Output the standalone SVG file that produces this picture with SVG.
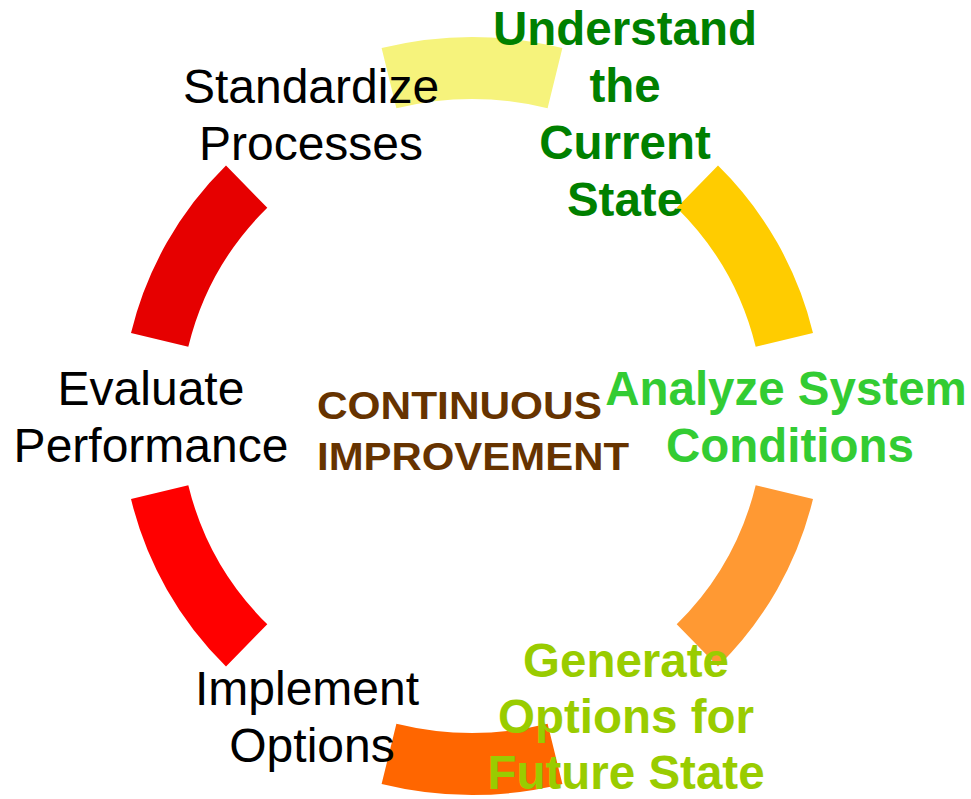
<svg xmlns="http://www.w3.org/2000/svg" width="971" height="799" viewBox="0 0 971 799">
<style>
.lbl{font-family:"Liberation Sans",Arial,sans-serif;font-size:48px;text-anchor:middle}
.blk{fill:#000}
.b{font-weight:bold;font-size:47.5px}
.g1{fill:#008000}
.g2{fill:#33CC33}
.g3{fill:#99CC00}
.ctr{font-family:"Liberation Sans",Arial,sans-serif;font-weight:bold;font-size:39px;fill:#663300}
</style>
<rect width="971" height="799" fill="#fff"/>
<g id="connectors">
<path id="arc-top" fill="#F6F37C" d="M381.6,48 A379,379 0 0 1 562.4,48 L547.6,108.2 A317,317 0 0 0 396.4,108.2 Z"/>
<path id="arc-right-upper" fill="#FFCC00" d="M718,165.6 A351,351 0 0 1 813,332.9 L755.7,346.8 A292,292 0 0 0 676.7,207.7 Z"/>
<path id="arc-right-lower" fill="#FF9933" d="M718,666.4 A351,351 0 0 0 813,499.1 L755.7,485.2 A292,292 0 0 1 676.7,624.3 Z"/>
<path id="arc-bottom" fill="#FF6600" d="M381.6,784 A379,379 0 0 0 562.4,784 L547.6,723.8 A317,317 0 0 1 396.4,723.8 Z"/>
<path id="arc-left-lower" fill="#FF0000" d="M226,666.4 A351,351 0 0 1 131,499.1 L188.3,485.2 A292,292 0 0 0 267.3,624.3 Z"/>
<path id="arc-left-upper" fill="#E60000" d="M226,165.6 A351,351 0 0 0 131,332.9 L188.3,346.8 A292,292 0 0 1 267.3,207.7 Z"/>
</g>
<g id="node-center">
<text class="ctr" x="317" y="419" textLength="285" lengthAdjust="spacingAndGlyphs">CONTINUOUS</text>
<text class="ctr" x="317" y="470" textLength="312" lengthAdjust="spacingAndGlyphs">IMPROVEMENT</text>
</g>
<g id="node-understand">
<text class="lbl b g1" x="625" y="45">Understand</text>
<text class="lbl b g1" x="625" y="102">the</text>
<text class="lbl b g1" x="625" y="159">Current</text>
<text class="lbl b g1" x="625" y="216">State</text>
</g>
<g id="node-analyze">
<text class="lbl b g2" x="786" y="405">Analyze System</text>
<text class="lbl b g2" x="790" y="462">Conditions</text>
</g>
<g id="node-generate">
<text class="lbl b g3" x="626" y="677">Generate</text>
<text class="lbl b g3" x="626" y="733">Options for</text>
<text class="lbl b g3" x="626" y="789">Future State</text>
</g>
<g id="node-implement">
<text class="lbl blk" x="307" y="705">Implement</text>
<text class="lbl blk" x="312" y="762">Options</text>
</g>
<g id="node-evaluate">
<text class="lbl blk" x="151" y="405">Evaluate</text>
<text class="lbl blk" x="151" y="462">Performance</text>
</g>
<g id="node-standardize">
<text class="lbl blk" x="311" y="103">Standardize</text>
<text class="lbl blk" x="311" y="160">Processes</text>
</g>
</svg>
